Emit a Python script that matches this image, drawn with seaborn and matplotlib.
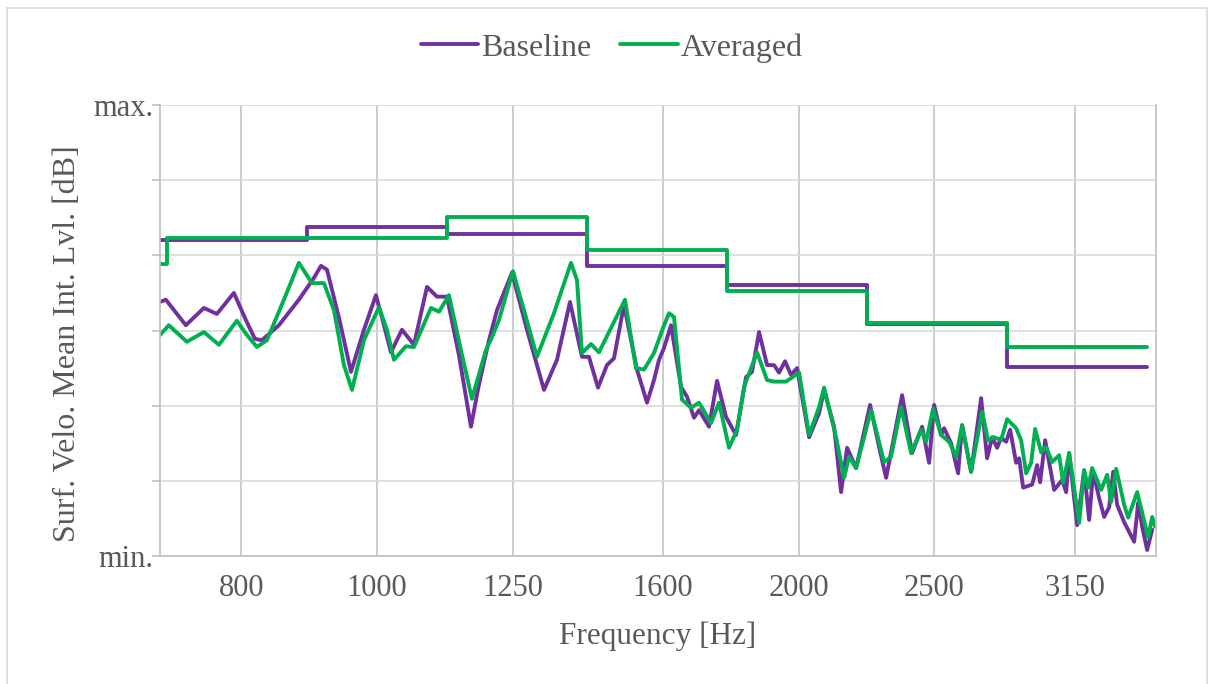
import matplotlib
matplotlib.use("Agg")
import matplotlib.pyplot as plt
from matplotlib.ticker import NullLocator
from matplotlib.patches import Rectangle
import seaborn as sns

# narrow-band spectra (Hz, level relative 0..60)
baseline_freq = [700.0, 706.7, 730.4, 752.4, 768.6, 790.4, 806.1, 818.2, 827.6, 851.1,
                 879.6, 901.6, 912.1, 921.1, 939.5, 958.2, 978.9, 998.4, 1011.6, 1023.3,
                 1042.0, 1062.8, 1085.8, 1103.8, 1122.0, 1144.4, 1167.2, 1182.6, 1202.3, 1218.2,
                 1248.6, 1279.8, 1316.1, 1344.5, 1373.6, 1400.9, 1417.1, 1438.3, 1459.7, 1476.6,
                 1501.1, 1533.6, 1559.0, 1577.0, 1590.1, 1603.3, 1621.8, 1648.7, 1665.0, 1684.3,
                 1698.2, 1726.4, 1749.3, 1775.3, 1804.8, 1834.7, 1852.9, 1874.4, 1899.2, 1921.1,
                 1937.0, 1956.2, 1975.6, 1995.3, 2035.1, 2068.8, 2085.9, 2120.5, 2145.0, 2166.3,
                 2198.6, 2249.8, 2283.3, 2309.8, 2371.4, 2410.7, 2450.7, 2479.1, 2499.5, 2528.5,
                 2541.0, 2570.4, 2600.2, 2617.3, 2656.3, 2700.4, 2727.1, 2749.7, 2772.4, 2790.6,
                 2813.7, 2832.4, 2860.4, 2874.6, 2893.5, 2936.7, 2960.9, 2975.6, 3000.2, 3044.9,
                 3085.2, 3105.6, 3121.0, 3162.3, 3198.9, 3225.3, 3246.6, 3278.8, 3305.9, 3333.2,
                 3355.2, 3377.4, 3416.5, 3473.1, 3496.0, 3519.1, 3548.1, 3577.4]
baseline_lvl = [33.8, 34.1, 30.7, 33.0, 32.2, 35.0, 31.4, 28.9, 28.7, 30.7,
                34.1, 37.0, 38.6, 38.1, 31.7, 24.5, 30.1, 34.7, 30.7, 27.1,
                30.1, 28.1, 35.8, 34.5, 34.5, 26.7, 17.2, 22.8, 28.7, 32.7,
                37.7, 30.1, 22.1, 26.1, 33.8, 26.5, 26.5, 22.4, 25.4, 26.3,
                33.4, 24.8, 20.4, 23.4, 26.1, 27.7, 30.7, 22.5, 21.2, 18.4,
                19.4, 17.2, 23.3, 18.5, 16.1, 23.8, 24.5, 29.8, 25.4, 25.4,
                24.4, 25.9, 24.1, 25.0, 15.8, 19.0, 22.1, 17.2, 8.5, 14.4,
                11.7, 20.1, 14.5, 10.4, 21.4, 13.7, 17.2, 12.4, 20.1, 16.1,
                17.0, 15.0, 11.0, 17.4, 11.2, 21.0, 13.0, 15.8, 14.4, 15.7,
                15.2, 16.8, 12.4, 13.0, 9.1, 9.5, 12.1, 9.8, 15.4, 8.8,
                10.1, 8.5, 13.7, 4.1, 11.4, 4.8, 11.2, 7.7, 5.2, 6.5,
                11.2, 6.8, 4.5, 1.9, 7.1, 3.9, 0.8, 3.5]

averaged_freq = [700.0, 710.2, 731.6, 752.4, 771.2, 794.3, 807.5, 820.9, 834.5, 858.2,
                 879.6, 898.7, 916.6, 931.8, 947.2, 959.8, 978.9, 1003.3, 1016.6, 1028.4,
                 1048.8, 1062.8, 1092.9, 1107.4, 1125.7, 1148.1, 1169.1, 1196.3, 1208.2, 1222.2,
                 1250.7, 1273.5, 1301.0, 1337.9, 1375.8, 1389.5, 1400.9, 1421.8, 1440.7, 1503.6,
                 1531.0, 1551.3, 1577.0, 1603.3, 1616.5, 1629.8, 1651.4, 1676.0, 1698.2, 1732.1,
                 1755.0, 1784.1, 1807.8, 1828.7, 1868.2, 1899.2, 1921.1, 1959.4, 2001.9, 2035.1,
                 2068.8, 2085.9, 2127.4, 2155.6, 2173.4, 2198.6, 2253.5, 2302.2, 2328.8, 2367.4,
                 2406.8, 2446.7, 2466.9, 2495.4, 2528.5, 2562.0, 2591.6, 2617.3, 2656.3, 2704.8,
                 2731.6, 2758.7, 2790.6, 2818.4, 2860.4, 2884.0, 2907.9, 2931.9, 2951.2, 2980.5,
                 3005.1, 3034.9, 3070.0, 3090.3, 3121.0, 3172.7, 3198.9, 3220.0, 3241.3, 3289.6,
                 3322.2, 3344.1, 3371.8, 3416.5, 3439.0, 3490.3, 3553.9, 3577.4, 3595.1]
averaged_lvl = [29.4, 30.7, 28.5, 29.8, 28.1, 31.3, 29.4, 27.8, 28.7, 34.1,
                39.0, 36.3, 36.3, 32.7, 25.4, 22.1, 28.7, 33.1, 30.1, 26.1,
                27.9, 27.8, 33.0, 32.5, 34.7, 27.4, 20.9, 27.4, 29.1, 31.4,
                37.9, 32.7, 26.5, 32.3, 39.0, 36.7, 27.0, 28.2, 27.1, 34.1,
                25.0, 24.8, 27.0, 30.7, 32.3, 31.8, 20.8, 19.7, 20.4, 17.7,
                20.4, 14.4, 16.8, 22.5, 27.1, 23.4, 23.2, 23.2, 24.4, 16.1,
                19.8, 22.4, 15.8, 10.4, 13.2, 11.7, 19.4, 12.5, 13.2, 19.8,
                13.7, 16.8, 15.2, 19.6, 16.1, 15.2, 13.2, 17.4, 11.2, 19.2,
                15.4, 15.8, 15.4, 18.2, 17.0, 15.4, 11.0, 12.4, 16.9, 13.8,
                14.5, 12.5, 13.4, 9.7, 13.7, 4.4, 11.4, 9.1, 11.7, 8.8,
                10.8, 7.2, 11.6, 6.8, 5.1, 8.5, 2.5, 5.2, 3.9]

# third-octave band levels (band edges in Hz)
baseline_band_edges = [700.0, 891.3, 1122.0, 1412.5, 1778.3, 2238.7, 2818.4, 3548.1]
baseline_band_lvl = [42.1, 43.8, 42.8, 38.6, 36.0, 30.9, 25.1, 25.1]
averaged_band_edges = [700.0, 707.9, 891.3, 1122.0, 1412.5, 1778.3, 2238.7, 2818.4, 3548.1]
averaged_band_lvl = [38.9, 42.3, 42.3, 45.1, 40.7, 35.3, 31.0, 27.8, 27.8]

xtick_vals = [800, 1000, 1250, 1600, 2000, 2500, 3150]
xtick_labels = ["800", "1000", "1250", "1600", "2000", "2500", "3150"]

purple = "#7030A0"
green = "#00B050"
text_col = "#595959"

sns.set_style("white")
plt.rcParams['font.family'] = ['Liberation Serif', 'DejaVu Serif']

fig = plt.figure(figsize=(12.14, 6.84), dpi=100)
ax = fig.add_axes([160 / 1214, 1 - 556 / 684, 996 / 1214, 451 / 684])

lw = 2.8
sns.lineplot(x=baseline_freq, y=baseline_lvl, color=purple, lw=lw, ax=ax, label="Baseline",
             sort=False, solid_joinstyle="round")
sns.lineplot(x=averaged_freq, y=averaged_lvl, color=green, lw=lw, ax=ax, label="Averaged",
             sort=False, solid_joinstyle="round")
sns.lineplot(x=baseline_band_edges, y=baseline_band_lvl, color=purple, lw=lw, ax=ax,
             drawstyle="steps-post", sort=False, legend=False)
sns.lineplot(x=averaged_band_edges, y=averaged_band_lvl, color=green, lw=lw, ax=ax,
             drawstyle="steps-post", sort=False, legend=False)

ax.set_xscale("log")
ax.set_xlim(700, 3600)
ax.set_ylim(0, 60)
ax.xaxis.set_minor_locator(NullLocator())
ax.set_xticks(xtick_vals)
ax.set_xticklabels(xtick_labels)
ax.set_yticks(range(0, 61, 10))
ax.set_yticklabels(["min.", "", "", "", "", "", "max."])

ax.grid(axis="y", color="#d9d9d9", lw=1.2)
ax.grid(axis="x", color="#c4c4c4", lw=1.2)
ax.set_axisbelow(True)
for s in ["left", "bottom", "right"]:
    ax.spines[s].set_color("#bfbfbf")
    ax.spines[s].set_linewidth(1.2)
ax.spines["top"].set_visible(False)

ax.tick_params(axis="x", length=0, pad=13, labelsize=22, labelcolor=text_col)
ax.tick_params(axis="y", left=True, length=6, width=1.2, color="#bfbfbf", pad=-1.5,
               labelsize=22, labelcolor=text_col)

ax.set_xlabel("Frequency [Hz]", fontsize=22.5, color=text_col)
ax.xaxis.set_label_coords(0.5, -0.145)
ax.set_ylabel("Surf. Velo. Mean Int. Lvl. [dB]", fontsize=23, color=text_col)
ax.yaxis.set_label_coords(-0.078, 0.47)

ax.legend(loc="center", bbox_to_anchor=(0.504, 0.93), bbox_transform=fig.transFigure,
          ncol=2, frameon=False, fontsize=23, handlelength=1.8, handletextpad=0.1,
          columnspacing=0.9, labelcolor=text_col)

fig.patches.append(Rectangle((7 / 1214, -0.01), 1200 / 1214, 1 - 8 / 684 + 0.01,
                             transform=fig.transFigure, fill=False,
                             edgecolor="#d9d9d9", lw=1.2))

fig.savefig("out.png", dpi=100)
